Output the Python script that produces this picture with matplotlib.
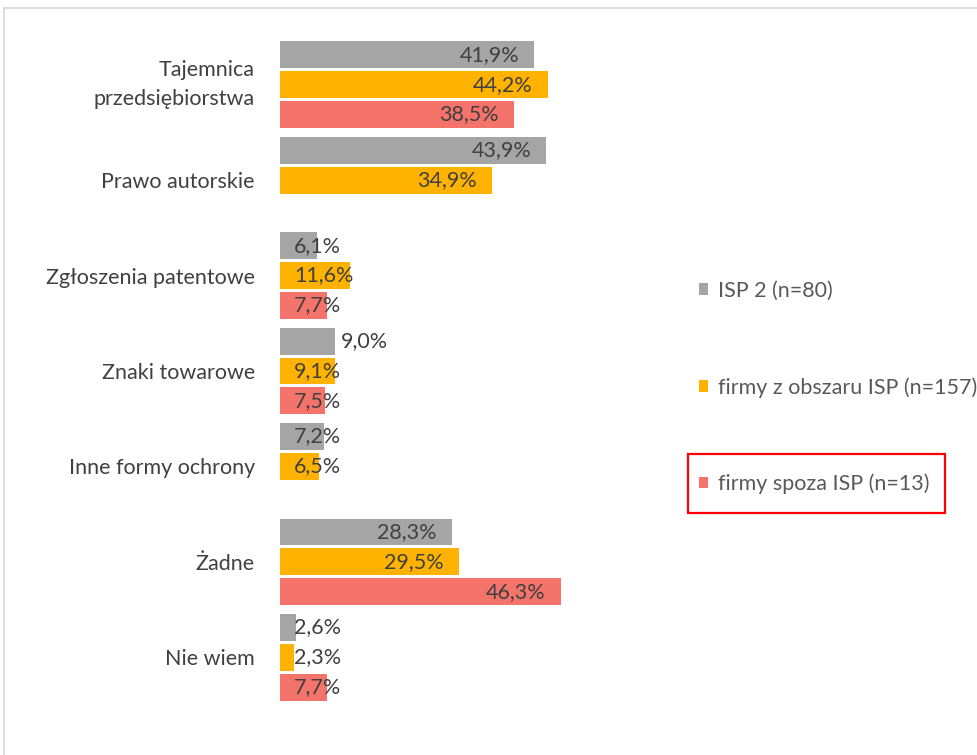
"""
Grouped horizontal bar chart: forms of IP protection used by ISP groups.
"""

import numpy as np
import matplotlib
matplotlib.use("Agg")
import matplotlib.pyplot as plt
from matplotlib.lines import Line2D
from matplotlib.patches import Rectangle

plt.rcParams["font.family"] = ["Lato", "DejaVu Sans"]

categories = ["Tajemnica\nprzedsiębiorstwa", "Prawo autorskie", "Zgłoszenia patentowe",
              "Znaki towarowe", "Inne formy ochrony", "Żadne", "Nie wiem"]
series_names = ["ISP 2 (n=80)", "firmy z obszaru ISP (n=157)", "firmy spoza ISP (n=13)"]
isp2 = [41.9, 43.9, 6.1, 9.0, 7.2, 28.3, 2.6]
obszar_isp = [44.2, 34.9, 11.6, 9.1, 6.5, 29.5, 2.3]
spoza_isp = [38.5, np.nan, 7.7, 7.5, np.nan, 46.3, 7.7]
# labels Excel put outside the bar end: (series index, category index)
outside_labels = {(0, 3)}

colors = ["#A5A5A5", "#FFB300", "#F4736A"]
TXT = "#404040"
FS = 15.5

fig = plt.figure(figsize=(9.78, 7.55), dpi=100)
ax = fig.add_axes([280 / 978, 50 / 755, 364 / 978, 668 / 755])

y = np.arange(len(categories))
step = 0.313
values = [isp2, obszar_isp, spoza_isp]
bars = []
for i, (vals, col, name) in enumerate(zip(values, colors, series_names)):
    pos = y + (i - 1) * step
    b = ax.barh(pos, vals, height=0.282, color=col, label=name)
    bars.append(b)
    for j, v in enumerate(vals):
        if np.isnan(v):
            continue
        txt = f"{v:.1f}%".replace(".", ",")
        if (i, j) in outside_labels:
            ax.annotate(txt, (v, pos[j]), xytext=(4.5, 0), textcoords="offset points",
                        ha="left", va="center", fontsize=FS, color=TXT)
        elif v < 13:
            ax.annotate(txt, (0, pos[j]), xytext=(10, 0), textcoords="offset points",
                        ha="left", va="center", fontsize=FS, color=TXT)
        else:
            ax.annotate(txt, (v, pos[j]), xytext=(-11, 0), textcoords="offset points",
                        ha="right", va="center", fontsize=FS, color=TXT)

ax.set_xlim(0, 60)
ax.set_ylim(len(categories) - 0.5, -0.5)
ax.set_yticks(y)
ax.set_yticklabels(categories, fontsize=FS, color=TXT, linespacing=1.55)
ax.get_yticklabels()[0].set_verticalalignment("center")
ax.tick_params(axis="y", length=0, pad=18)
ax.set_xticks([])
for s in ax.spines.values():
    s.set_visible(False)

leg = fig.legend(handles=bars, labels=series_names, loc="upper left",
                 bbox_to_anchor=(688 / 978, 1 - 270 / 755), frameon=False,
                 fontsize=FS, labelcolor="#595959", handlelength=0.45, handleheight=0.45,
                 handletextpad=0.45, labelspacing=3.54, borderpad=0)

# red highlight box around the third legend entry
fig.patches.append(Rectangle((688 / 978, 1 - 513 / 755), 257 / 978, 59 / 755,
                             transform=fig.transFigure, fill=False,
                             edgecolor="#FF0000", linewidth=1.6))

# chart area border (only top and left edges visible in the crop)
fig.lines.append(Line2D([4 / 978, 4 / 978], [0, 1 - 8 / 755], transform=fig.transFigure,
                        color="#D9D9D9", linewidth=1.2))
fig.lines.append(Line2D([4 / 978, 1], [1 - 8 / 755, 1 - 8 / 755], transform=fig.transFigure,
                        color="#D9D9D9", linewidth=1.2))

fig.savefig("out.png", dpi=100)
